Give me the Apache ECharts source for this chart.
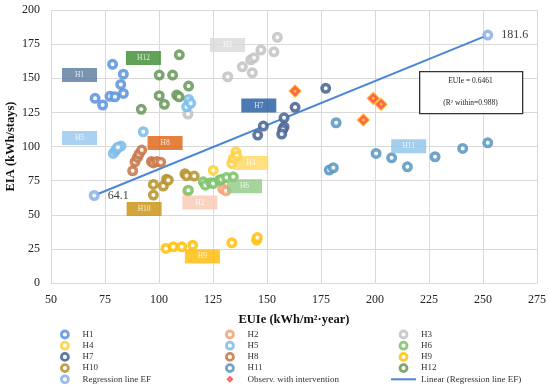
<!DOCTYPE html>
<html><head><meta charset="utf-8">
<script src="https://cdn.jsdelivr.net/npm/echarts@6/dist/echarts.min.js"></script>
<style>html,body{margin:0;padding:0;background:#fff}#c{width:550px;height:387px}</style>
</head><body><div id="c"></div>
<script>
// ---- data (EUIe, EIA) ----
const H1 = [[70.4,135.3],[73.9,130.4],[77.3,136.8],[79.6,136.4],[78.5,160.2],[83.5,153],[82.3,145.5],[83.5,138.9]];
const H2 = [[113.3,67.3],[129.5,69],[131,67.5]];
const H3 = [[131.8,151.1],[138.6,158.4],[143.2,154],[142.5,163.5],[144,165],[147.2,170.7],[153.2,169.4],[154.8,180],[113.4,123.8]];
const H4 = [[125.1,82.5],[133.7,87.6],[134.4,91.3],[135.6,96.1],[136,93]];
const H5 = [[78.8,94.9],[79.8,97],[80.5,98.5],[82.4,100.3],[81,99.5],[92.7,110.8],[113.7,134.5],[112.8,129.1],[114.7,131.6]];
const H6 = [[113.6,68],[120.5,74.1],[121.5,71.7],[124,73.5],[125.1,72.9],[127.9,75.3],[129,76],[131.3,77.3],[134.4,77.8]];
const H7 = [[145.7,108.4],[148.3,115],[157.9,121],[157.9,114.4],[157.3,112.5],[156.8,109.1],[163,128.7],[177.2,142.6]];
const H8 = [[87.8,82.2],[88.9,88.8],[90,92],[90.8,94.5],[92,97.4],[96.5,89],[97.4,88],[99,89],[100.8,88.5]];
const H9 = [[103.2,25.3],[106.6,26.5],[110.5,26.5],[115.6,27.7],[133.7,29.4],[145.2,31.4],[145.5,33.3]];
const H10 = [[97.4,72.2],[97.4,64.4],[102,71],[103.5,76],[104.3,75.3],[112,80],[112.8,78.6],[116.3,78.3]];
const H11 = [[182,117.4],[178.8,82.7],[180.7,84.4],[200.5,94.9],[207.7,91.7],[215,85.1],[227.8,92.5],[240.6,98.6],[252.2,102.7]];
const H12 = [[109.4,167.2],[100.1,152.3],[106.3,152.3],[113.7,144.3],[100.1,137.2],[102.5,130.9],[108.2,137.7],[109.3,136.4],[91.8,127.2]];
const regressionEF = [[70,64.1],[252.2,181.6]];
const intervention = [[163,140.6],[194.6,119.4],[199.2,135.3],[202.8,130.9]];
// category label anchors (EUIe, EIA)
const groupLabels = ['H1','H2','H3','H4','H5','H6','H7','H8','H9','H10','H11','H12'];
const groupLabelPos = [[63.2,152.3],[118.9,58.9],[131.7,174.3],[142.5,88],[63.2,106.2],[139.6,70.8],[146.2,130],[102.8,102.5],[120.1,19.4],[93.1,54.3],[215.6,100.1],[92.8,164.8]];
const xTicks = {min:50,max:275,interval:25};
const yTicks = {min:0,max:200,interval:25};
const eqText = 'EUIe = 0.6461';
const r2Text = '(R² within=0.988)';

// ---- styles ----
const colors = {H1:'#5E95DE',H2:'#F4A377',H3:'#C4C4C4',H4:'#FFD040',H5:'#7DBDEB',H6:'#7CC46A',H7:'#4A6595',H8:'#C8764A',H9:'#FFC20E',H10:'#B8942E',H11:'#5A99C2',H12:'#6A9A5C',EF:'#8DB3E8'};
const boxColors = ['#58789E','#FAC8B4','#D9D9D9','#FFD75E','#95C6EC','#8FCB84','#1E58A0','#E0600E','#FFBA00','#C8900A','#8CC3E8','#3A8A2E'];
const FONT = '"Liberation Serif","DejaVu Serif",serif';

function ring(name, data, color){
  return {type:'scatter', name, data, symbol:'circle', symbolSize:7.5, z:3,
    itemStyle:{color:'#fff', borderColor:color, borderWidth:3.5, opacity:0.88}};
}
const groups = {H1,H2,H3,H4,H5,H6,H7,H8,H9,H10,H11,H12};
const series = [];
series.push({type:'line', name:'Linear (Regression line EF)', data:regressionEF, showSymbol:false, symbol:'none',
  lineStyle:{color:'#4A86D8', width:2}, itemStyle:{color:'#4A86D8'}, z:2, silent:true});
Object.keys(groups).forEach(k=>series.push(ring(k, groups[k], colors[k])));
const ef = ring('Regression line EF', regressionEF, colors.EF);
ef.label = {show:true, position:'right', distance:8, fontFamily:FONT, fontSize:12, color:'#222',
  formatter:p=>p.value[1].toFixed(1)};
series.push(ef);
series.push({type:'scatter', name:'Observ. with intervention', data:intervention, z:4,
  symbol:'path://M0,-10L10,0L0,10L-10,0Z M0,-2L-2,0L0,2L2,0Z', symbolSize:12,
  itemStyle:{color:'#FF3B30', borderColor:'#FFB800', borderWidth:1.2}});
series.push({type:'scatter', name:'labels', z:5, silent:true, symbol:'rect', symbolSize:[35,14],
  data: groupLabels.map((n,i)=>({name:n, value:groupLabelPos[i], itemStyle:{color:boxColors[i]}})),
  label:{show:true, position:'inside', formatter:'{b}', color:'#fff', fontFamily:FONT, fontSize:7.5}});

const legendBase = {orient:'vertical', top:329.5, padding:0, itemWidth:25, itemHeight:7, itemGap:1.2,
  textStyle:{fontFamily:FONT, fontSize:9, lineHeight:10, color:'#333'}, itemStyle:{borderWidth:2.8}};
const chart = echarts.init(document.getElementById('c'));
chart.setOption({
  animation:false,
  grid:{left:51, right:13, top:10, bottom:104, containLabel:false, outerBoundsMode:'none'},
  xAxis:{type:'value', min:xTicks.min, max:xTicks.max, interval:xTicks.interval,
    name:'EUIe (kWh/m²·year)', nameLocation:'middle', nameGap:30, nameMoveOverlap:false,
    nameTextStyle:{fontFamily:FONT, fontSize:12.5, fontWeight:'bold', color:'#111'},
    axisLine:{show:true, lineStyle:{color:'#D9D9D9'}}, axisTick:{show:false},
    axisLabel:{margin:11, fontFamily:FONT, fontSize:12, color:'#222'},
    splitLine:{show:true, lineStyle:{color:'#D9D9D9', width:1}}},
  yAxis:{type:'value', min:yTicks.min, max:yTicks.max, interval:yTicks.interval,
    name:'EIA (kWh/stays)', nameLocation:'middle', nameGap:34, nameMoveOverlap:false,
    nameTextStyle:{fontFamily:FONT, fontSize:12.5, fontWeight:'bold', color:'#111'},
    axisLine:{show:false}, axisTick:{show:false},
    axisLabel:{margin:11, fontFamily:FONT, fontSize:12, color:'#222'},
    splitLine:{show:true, lineStyle:{color:'#D9D9D9', width:1}}},
  legend:[
    Object.assign({}, legendBase, {left:60, data:['H1','H4','H7','H10','Regression line EF']}),
    Object.assign({}, legendBase, {left:225, data:['H2','H5','H8','H11',{name:'Observ. with intervention', itemStyle:{borderWidth:0}}]}),
    Object.assign({}, legendBase, {left:390, data:['H3','H6','H9','H12',{name:'Linear (Regression line EF)', itemStyle:{opacity:0}}]})
  ],
  graphic:[
    {type:'rect', left:419, top:71, shape:{width:103, height:42}, z:10,
      style:{fill:'#fff', stroke:'#333', lineWidth:1.3}},
    {type:'text', x:470.5, y:81, z:11, style:{text:eqText, font:'7.5px '+FONT, fill:'#222', align:'center', verticalAlign:'middle'}},
    {type:'text', x:470.5, y:103, z:11, style:{text:r2Text, font:'7.5px '+FONT, fill:'#222', align:'center', verticalAlign:'middle'}}
  ],
  series
});
</script></body></html>
